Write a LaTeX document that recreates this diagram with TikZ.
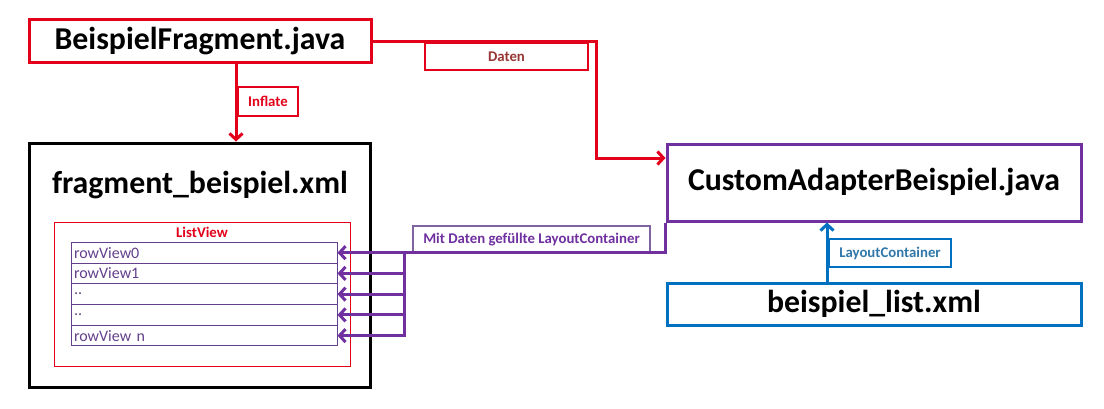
\documentclass[tikz,border=0pt]{standalone}
\usepackage{fontspec}
\setmainfont{Carlito}
\usetikzlibrary{arrows.meta}
\definecolor{cred}{RGB}{226,0,26}
\definecolor{cdaten}{RGB}{150,55,53}
\definecolor{cpurple}{RGB}{112,48,160}
\definecolor{clpurple}{RGB}{128,100,162}
\definecolor{crow}{RGB}{100,64,140}
\definecolor{cblue}{RGB}{0,112,192}
\definecolor{cbtext}{RGB}{49,120,170}
\tikzset{
  bigtxt/.style={font=\fontsize{31.8}{34}\selectfont\bfseries},
  smalltxt/.style={font=\fontsize{14.8}{16}\selectfont\bfseries},
  frame/.style={draw, line width=3pt, inner sep=0pt, fill=white},
  lbl/.style={draw, line width=2.5pt, inner sep=0pt, fill=white, smalltxt},
  rowbox/.style={draw=crow, line width=1pt, minimum width=265.5pt, minimum height=20.74pt,
    inner xsep=2.5pt, inner ysep=0pt, text width=260.5pt, align=left, text=crow,
    font=\fontsize{16}{17}\selectfont},
  conn/.style={line width=3pt, -{Straight Barb[length=6pt,width=13pt]}},
}
\begin{document}
\begin{tikzpicture}[x=1pt,y=-1pt]
\fill[white] (0,0) rectangle (1104,408);
\useasboundingbox (0,0) rectangle (1104,408);
% main boxes
\node[frame, draw=cred, minimum width=342pt, minimum height=43pt, bigtxt] (bf) at (200,41) {BeispielFragment.java};
\node[frame, draw=black, minimum width=341pt, minimum height=244pt] (fr) at (199.5,265) {};
\node[bigtxt, anchor=base] (frt) at (200,193) {fragment\_beispiel.xml};
\node[draw=cred, line width=1pt, minimum width=295.5pt, minimum height=144pt, inner sep=0pt] (lv) at (202.25,294) {};
\node[smalltxt, text=cred] (lvt) at (202,232) {ListView};
\node[rowbox] (r0) at (204.25,252.7) {rowView0};
\node[rowbox] (r1) at (204.25,273.4) {rowView1};
\node[rowbox] (r2) at (204.25,294.1) {..};
\node[rowbox] (r3) at (204.25,314.9) {..};
\node[rowbox] (r4) at (204.25,335.6) {rowView n};
\node[frame, draw=cpurple, minimum width=414pt, minimum height=77pt, bigtxt] (ca) at (874,182.5) {CustomAdapterBeispiel.java};
\node[frame, draw=cblue, minimum width=414pt, minimum height=42pt, bigtxt] (bl) at (874,304) {beispiel\_list.xml};
% labels
\node[lbl, draw=cred, text=cdaten, minimum width=163pt, minimum height=27pt] (dat) at (506.5,56.3) {Daten};
\node[lbl, draw=cred, text=cred, minimum width=60pt, minimum height=29pt] (inf) at (268,101.5) {Inflate};
\node[lbl, draw=clpurple, text=cpurple, minimum width=237pt, minimum height=27pt] (mit) at (531.5,239.3) {Mit Daten gefüllte LayoutContainer};
\node[lbl, draw=cblue, text=cbtext, minimum width=122pt, minimum height=28pt] (lc) at (890,253) {LayoutContainer};
% connectors
\draw[conn, cred] (bf.east) -- ++(224,0) |- ([yshift=24.5pt]ca.west);
\draw[conn, cred] ([xshift=36pt]bf.south) -- ([xshift=36pt]bf.south |- fr.north);
\draw[conn, cpurple] (ca.south west) |- (r0.east);
\coordinate (bus) at (404,252.7);
\foreach \r in {r1,r2,r3,r4} \draw[conn, cpurple] (bus) |- (\r.east);
\draw[conn, cblue] ([xshift=-47pt]bl.north) -- ([xshift=-47pt]bl.north |- ca.south);
\end{tikzpicture}
\end{document}
